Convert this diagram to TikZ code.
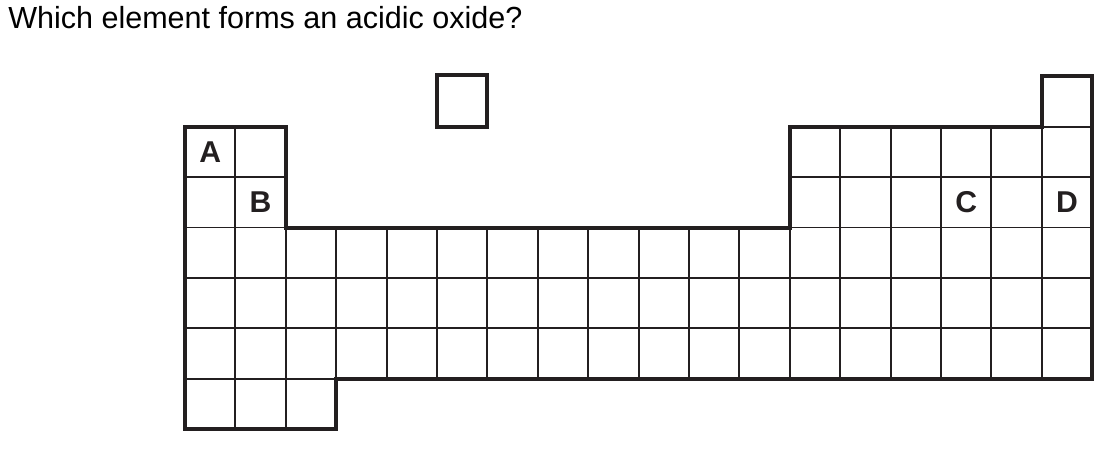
\documentclass[tikz,border=0pt]{standalone}
\usepackage{fontspec}
\setmainfont{Liberation Sans}
\definecolor{ink}{RGB}{35,31,32}
\begin{document}
\begin{tikzpicture}[x=37.8pt,y=-37.8pt,
  thin cell/.style={draw=ink,line width=1.4pt},
  thick outline/.style={draw=ink,line width=3pt,line join=miter},
  elabel/.style={font=\fontsize{22.6pt}{26pt}\selectfont\bfseries,text=ink,inner sep=0pt}]
\useasboundingbox (-3.671,-1.514) rectangle (18.393,7.435);
% thin cells
\foreach \r in {1,2}{
  \foreach \c in {0,1,12,13,...,17}{
    \draw[thin cell] (\c,\r) rectangle ++(1,1);
  }
}
\foreach \r in {3,4,5}{
  \foreach \c in {0,...,17}{
    \draw[thin cell] (\c,\r) rectangle ++(1,1);
  }
}
\foreach \c in {0,1,2}{
  \draw[thin cell] (\c,6) rectangle ++(1,1);
}
\draw[thin cell] (17,0) rectangle ++(1,1);
% thick outline
\draw[thick outline] (0,1) -- (2,1) -- (2,3) -- (12,3) -- (12,1) -- (17,1) -- (17,0) -- (18,0) -- (18,6) -- (3,6) -- (3,7) -- (0,7) -- cycle;
\draw[thick outline] (5,-0.02) rectangle (6,1);
% labels
\node[elabel] (A) at (0.5,1.5) {A};
\node[elabel] (B) at (1.5,2.5) {B};
\node[elabel] (C) at (15.5,2.5) {C};
\node[elabel] (D) at (17.5,2.5) {D};
% question
\node[anchor=base west,inner sep=0pt,text=black,font=\fontsize{22.9pt}{27pt}\selectfont] (q) at (-3.512,-0.952) {Which element forms an acidic oxide?};
\end{tikzpicture}
\end{document}
